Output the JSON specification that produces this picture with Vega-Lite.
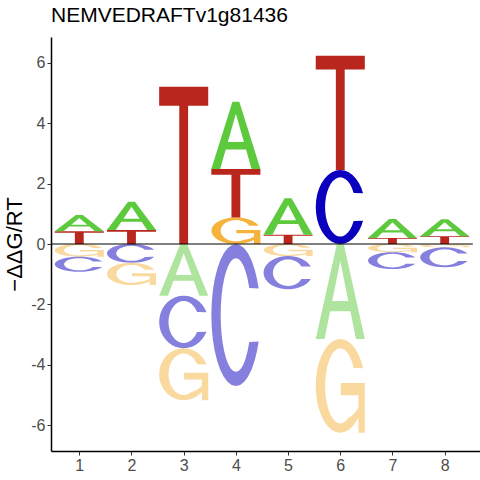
{
  "$schema": "https://vega.github.io/schema/vega-lite/v6.json",
  "autosize": "none",
  "padding": {"left": 51, "top": 37, "right": 0, "bottom": 29},
  "width": 429,
  "height": 414,
  "background": "white",
  "title": {
    "text": "NEMVEDRAFTv1g81436",
    "anchor": "start",
    "frame": "group",
    "font": "Liberation Sans",
    "fontSize": 21,
    "fontWeight": "normal",
    "color": "black",
    "baseline": "alphabetic",
    "offset": -6
  },
  "config": {
    "view": {"stroke": null},
    "axis": {
      "grid": false,
      "domainColor": "black",
      "domainWidth": 1.5,
      "tickColor": "#333333",
      "tickSize": 4,
      "labelColor": "#4D4D4D",
      "labelFont": "Liberation Sans",
      "labelFontSize": 16,
      "labelPadding": 2,
      "titleFont": "Liberation Sans",
      "titleFontWeight": "normal",
      "titleColor": "black"
    }
  },
  "datasets": {
    "letters": [
      {"pos": 1, "letter": "T", "lo": 0, "hi": 0.42},
      {"pos": 1, "letter": "A", "lo": 0.42, "hi": 0.96},
      {"pos": 1, "letter": "G", "lo": -0.42, "hi": 0},
      {"pos": 1, "letter": "C", "lo": -0.92, "hi": -0.42},
      {"pos": 2, "letter": "T", "lo": 0, "hi": 0.46},
      {"pos": 2, "letter": "A", "lo": 0.46, "hi": 1.40},
      {"pos": 2, "letter": "C", "lo": -0.62, "hi": 0},
      {"pos": 2, "letter": "G", "lo": -1.36, "hi": -0.62},
      {"pos": 3, "letter": "T", "lo": 0, "hi": 5.20},
      {"pos": 3, "letter": "A", "lo": -1.71, "hi": 0},
      {"pos": 3, "letter": "C", "lo": -3.45, "hi": -1.71},
      {"pos": 3, "letter": "G", "lo": -5.17, "hi": -3.45},
      {"pos": 4, "letter": "G", "lo": 0, "hi": 0.88},
      {"pos": 4, "letter": "T", "lo": 0.88, "hi": 2.48},
      {"pos": 4, "letter": "A", "lo": 2.48, "hi": 4.71},
      {"pos": 4, "letter": "C", "lo": -4.70, "hi": 0},
      {"pos": 5, "letter": "T", "lo": 0, "hi": 0.31},
      {"pos": 5, "letter": "A", "lo": 0.31, "hi": 1.51},
      {"pos": 5, "letter": "G", "lo": -0.40, "hi": 0},
      {"pos": 5, "letter": "C", "lo": -1.50, "hi": -0.40},
      {"pos": 6, "letter": "C", "lo": 0, "hi": 2.45},
      {"pos": 6, "letter": "T", "lo": 2.45, "hi": 6.23},
      {"pos": 6, "letter": "A", "lo": -3.14, "hi": 0},
      {"pos": 6, "letter": "G", "lo": -6.25, "hi": -3.14},
      {"pos": 7, "letter": "T", "lo": 0, "hi": 0.20},
      {"pos": 7, "letter": "A", "lo": 0.20, "hi": 0.83},
      {"pos": 7, "letter": "G", "lo": -0.27, "hi": 0},
      {"pos": 7, "letter": "C", "lo": -0.83, "hi": -0.27},
      {"pos": 8, "letter": "T", "lo": 0, "hi": 0.26},
      {"pos": 8, "letter": "A", "lo": 0.26, "hi": 0.82},
      {"pos": 8, "letter": "G", "lo": -0.11, "hi": 0},
      {"pos": 8, "letter": "C", "lo": -0.77, "hi": -0.11}
    ],
    "glyphs": [
      {
        "letter": "T",
        "k": [0, 1, 2, 3, 4, 5, 6, 7],
        "u": [0, 1, 1, 0.59, 0.59, 0.41, 0.41, 0],
        "v": [1, 1, 0.88, 0.88, 0, 0, 0.88, 0.88]
      },
      {
        "letter": "A",
        "k": [0, 1, 2, 3, 4, 5, 6, 7, 8, 9, 10, 11, 12],
        "u": [0, 0.43, 0.57, 1, 0.82, 0.707, 0.293, 0.18, 0, 0.336, 0.664, 0.5, 0.336],
        "v": [0, 1, 1, 0, 0, 0.29, 0.29, 0, 0, 0.40, 0.40, 0.82, 0.40]
      },
      {
        "letter": "C",
        "k": [0, 1, 2, 3, 4, 5, 6, 7, 8, 9, 10, 11, 12, 13, 14, 15, 16, 17, 18, 19, 20, 21, 22, 23, 24, 25, 26, 27, 28, 29, 30, 31, 32, 33, 34, 35, 36, 37, 38, 39, 40, 41, 42, 43, 44, 45, 46, 47, 48, 49, 50, 51, 52, 53, 54, 55, 56, 57, 58, 59, 60, 61, 62, 63],
        "u": [0.964, 0.933, 0.883, 0.821, 0.75, 0.671, 0.587, 0.5, 0.413, 0.329, 0.25, 0.179, 0.117, 0.067, 0.03, 0.008, 0, 0.008, 0.03, 0.067, 0.117, 0.179, 0.25, 0.329, 0.413, 0.5, 0.587, 0.671, 0.75, 0.821, 0.883, 0.933, 0.964,
              0.773, 0.737, 0.699, 0.655, 0.606, 0.554, 0.5, 0.446, 0.394, 0.345, 0.301, 0.263, 0.232, 0.209, 0.195, 0.19, 0.195, 0.209, 0.232, 0.263, 0.301, 0.345, 0.394, 0.446, 0.5, 0.554, 0.606, 0.655, 0.699, 0.737, 0.773],
        "v": [0.687, 0.75, 0.821, 0.883, 0.933, 0.97, 0.992, 1, 0.992, 0.97, 0.933, 0.883, 0.821, 0.75, 0.671, 0.587, 0.5, 0.413, 0.329, 0.25, 0.179, 0.117, 0.067, 0.03, 0.008, 0, 0.008, 0.03, 0.067, 0.117, 0.179, 0.25, 0.313,
              0.31, 0.243, 0.194, 0.154, 0.124, 0.106, 0.1, 0.106, 0.124, 0.154, 0.194, 0.243, 0.3, 0.363, 0.431, 0.5, 0.569, 0.637, 0.7, 0.757, 0.806, 0.846, 0.876, 0.894, 0.9, 0.894, 0.876, 0.846, 0.806, 0.757, 0.69]
      },
      {
        "letter": "G",
        "k": [0, 1, 2, 3, 4, 5, 6, 7, 8, 9, 10, 11, 12, 13, 14, 15, 16, 17, 18, 19, 20, 21, 22, 23, 24, 25, 26, 27, 28, 29, 30, 31, 32, 33, 34, 35, 36, 37, 38, 39, 40, 41, 42, 43, 44, 45, 46, 47, 48, 49, 50, 51, 52, 53, 54, 55, 56, 57, 58, 59, 60, 61, 62, 63, 64, 65, 66],
        "u": [0.964, 0.933, 0.883, 0.821, 0.75, 0.671, 0.587, 0.5, 0.413, 0.329, 0.25, 0.179, 0.117, 0.067, 0.03, 0.008, 0, 0.008, 0.03, 0.067, 0.117, 0.179, 0.25, 0.329, 0.413, 0.5, 0.587, 0.671, 0.75,
              0.821, 0.87, 0.87, 1, 1, 0.51, 0.51, 0.87, 0.87, 0.78,
              0.655, 0.606, 0.554, 0.5, 0.446, 0.394, 0.345, 0.301, 0.263, 0.232, 0.209, 0.195, 0.19, 0.195, 0.209, 0.232, 0.263, 0.301, 0.345, 0.394, 0.446, 0.5, 0.554, 0.606, 0.655, 0.699, 0.737, 0.773],
        "v": [0.687, 0.75, 0.821, 0.883, 0.933, 0.97, 0.992, 1, 0.992, 0.97, 0.933, 0.883, 0.821, 0.75, 0.671, 0.587, 0.5, 0.413, 0.329, 0.25, 0.179, 0.117, 0.067, 0.03, 0.008, 0, 0.008, 0.03, 0.067,
              0.117, 0.16, 0, 0, 0.53, 0.53, 0.40, 0.40, 0.27, 0.20,
              0.154, 0.124, 0.106, 0.1, 0.106, 0.124, 0.154, 0.194, 0.243, 0.3, 0.363, 0.431, 0.5, 0.569, 0.637, 0.7, 0.757, 0.806, 0.846, 0.876, 0.894, 0.9, 0.894, 0.876, 0.846, 0.806, 0.757, 0.69]
      }
    ],
    "zero_line": [
      {"x": 0.458, "x2": 8.54, "y": 0}
    ]
  },
  "layer": [
    {
      "data": {"name": "letters"},
      "transform": [
        {
          "lookup": "letter",
          "from": {"data": {"name": "glyphs"}, "key": "letter", "fields": ["k", "u", "v"]}
        },
        {"flatten": ["k", "u", "v"]},
        {"calculate": "datum.pos - 0.47 + 0.94 * datum.u", "as": "gx"},
        {"calculate": "datum.lo + (datum.hi - datum.lo) * datum.v", "as": "gy"}
      ],
      "mark": {"type": "line", "filled": true, "strokeWidth": 0, "interpolate": "linear"},
      "encoding": {
        "x": {
          "field": "gx",
          "type": "quantitative",
          "scale": {"domain": [0.458, 8.677], "nice": false, "zero": false},
          "axis": {"values": [1, 2, 3, 4, 5, 6, 7, 8], "title": null, "format": "d"}
        },
        "y": {
          "field": "gy",
          "type": "quantitative",
          "scale": {"domain": [-6.85, 6.85], "nice": false, "zero": false},
          "axis": {
            "values": [-6, -4, -2, 0, 2, 4, 6],
            "labelExpr": "datum.value",
            "title": "−ΔΔG/RT",
            "titleFontSize": 22,
            "titlePadding": 4
          }
        },
        "order": {"field": "k", "type": "quantitative"},
        "detail": [
          {"field": "pos", "type": "nominal"},
          {"field": "letter", "type": "nominal"}
        ],
        "color": {
          "field": "letter",
          "type": "nominal",
          "scale": {
            "domain": ["A", "C", "G", "T"],
            "range": ["#5DC93C", "#0B00BE", "#F5B33D", "#B8261E"]
          },
          "legend": null
        },
        "opacity": {
          "condition": {"test": "datum.hi <= 0", "value": 0.5},
          "value": 1
        }
      }
    },
    {
      "data": {"name": "zero_line"},
      "mark": {"type": "rule", "color": "black", "strokeWidth": 1.2},
      "encoding": {
        "x": {"field": "x", "type": "quantitative"},
        "x2": {"field": "x2"},
        "y": {"field": "y", "type": "quantitative"}
      }
    }
  ]
}
